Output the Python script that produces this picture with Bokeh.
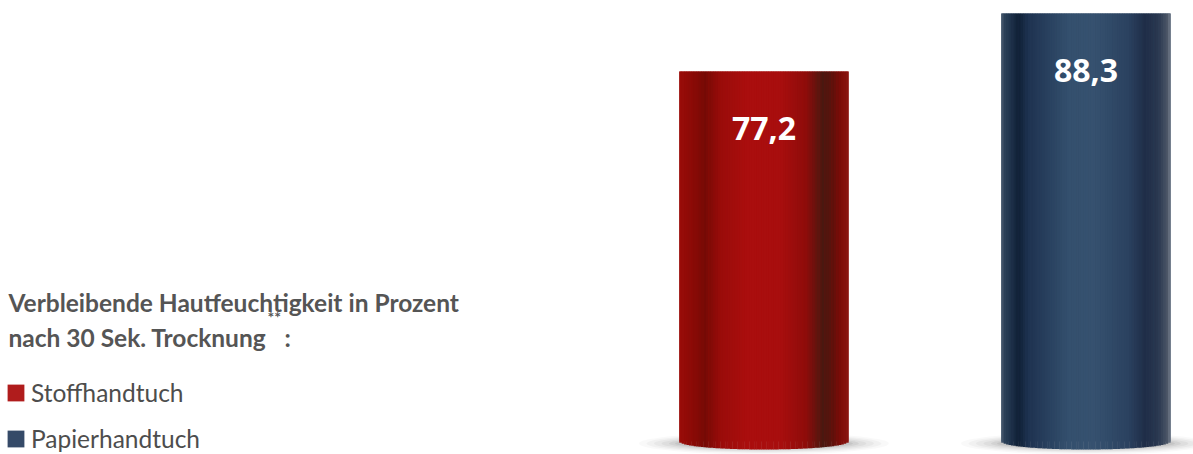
import math
from bokeh.plotting import figure
from bokeh.models import Range1d, Label, Legend, LegendItem, ColumnDataSource
from bokeh.core.properties import value
from bokeh.embed import file_html
from bokeh.resources import INLINE

# ---- data ----
categories = ["Stoffhandtuch", "Papierhandtuch"]
values = [77.2, 88.3]
value_labels = ["77,2", "88,3"]
title_line1 = "Verbleibende Hautfeuchtigkeit in Prozent"
title_line2 = "nach 30 Sek. Trocknung"
footnote_mark = "**"

# ---- style ----
W, H = 1193, 454
base_colors = ["#a50e0e", "#2f4763"]
legend_colors = ["#b01c1c", "#354a68"]
shade_stops = [
    [(0.0, "#9a0c08"), (0.1, "#860a06"), (0.15, "#760a05"), (0.25, "#9a0c0a"),
     (0.4, "#aa0e0e"), (0.6, "#a80e0e"), (0.75, "#8e0c0a"), (0.85, "#4a1810"),
     (0.9, "#5a120c"), (0.95, "#7a0c08"), (1.0, "#8a1510")],
    [(0.0, "#4a5a70"), (0.02, "#2a4058"), (0.07, "#1a2c45"), (0.1, "#0f2035"),
     (0.16, "#1e3250"), (0.4, "#34506e"), (0.55, "#36516f"), (0.75, "#2b4260"),
     (0.85, "#1f2d48"), (0.93, "#2a3850"), (0.98, "#4a5566"), (1.0, "#707888")],
]

y_end = max(values) + 2.49
y_start = 3.90
k = H / (y_end - y_start)          # px per unit
x_start, x_end = -2.371, 1.334
bar_w = 0.525
base = y_start + 13 / k            # cylinder bottom centre line
cap_px = 8                         # elliptic bottom half-height in px


def hex2rgb(h):
    return tuple(int(h[i:i + 2], 16) for i in (1, 3, 5))


def interp(stops, t):
    for (t0, c0), (t1, c1) in zip(stops, stops[1:]):
        if t0 <= t <= t1:
            f = (t - t0) / (t1 - t0) if t1 > t0 else 0
            a, b = hex2rgb(c0), hex2rgb(c1)
            return "#%02x%02x%02x" % tuple(round(a[j] + (b[j] - a[j]) * f) for j in range(3))
    return stops[-1][1]


p = figure(width=W, height=H, output_backend="svg", toolbar_location=None,
           x_range=Range1d(x_start, x_end), y_range=Range1d(y_start, y_end),
           min_border=0, min_border_left=0, min_border_right=0,
           min_border_top=0, min_border_bottom=0)
p.axis.visible = False
p.grid.visible = False
p.outline_line_color = None
p.background_fill_color = "white"
p.border_fill_color = "white"

xs = list(range(len(categories)))

# soft shadows
for sw, sh, a in [(250, 22, 0.025), (235, 19, 0.03), (220, 17, 0.035),
                  (205, 15, 0.04), (190, 13, 0.05), (178, 11, 0.06)]:
    p.ellipse(x=xs, y=[base - 2 / k] * len(xs), width=sw, height=sh,
              width_units="screen", height_units="screen",
              fill_color="#000000", fill_alpha=a, line_color=None)

# base bars
src = ColumnDataSource(dict(x=xs, top=values, color=base_colors))
p.vbar(x="x", top="top", bottom=base, width=bar_w, fill_color="color",
       line_color=None, source=src)

# cylinder shading strips
n = 70
sx, stop_, sbot, scol = [], [], [], []
for i, (xc, v) in enumerate(zip(xs, values)):
    for j in range(n):
        t = (j + 0.5) / n
        u = 2 * t - 1
        sx.append(xc - bar_w / 2 + t * bar_w)
        stop_.append(v)
        sbot.append(base - cap_px * math.sqrt(max(0.0, 1 - u * u)) / k)
        scol.append(interp(shade_stops[i], t))
p.vbar(x=sx, top=stop_, bottom=sbot, width=bar_w / n * 1.15,
       fill_color=scol, line_color=None)

# value labels
p.text(x=xs, y=values, text=value_labels, text_color="white",
       text_font=value("Open Sans"), text_font_style="bold",
       text_font_size="32px", text_align="center", text_baseline="middle",
       y_offset=57)

# title
tfont, tsize, tcol = "Lato", "24.5px", "#555555"
p.add_layout(Label(x=8, y=H - 302, x_units="screen", y_units="screen",
                   text=title_line1, text_font=tfont, text_font_style="bold",
                   text_font_size=tsize, text_color=tcol,
                   text_baseline="alphabetic"))
p.add_layout(Label(x=8, y=H - 337, x_units="screen", y_units="screen",
                   text=title_line2, text_font=tfont, text_font_style="bold",
                   text_font_size=tsize, text_color=tcol,
                   text_baseline="alphabetic"))
p.add_layout(Label(x=267, y=H - 316, x_units="screen", y_units="screen",
                   text=footnote_mark, text_font=tfont, text_font_style="bold",
                   text_font_size="16px", text_color=tcol,
                   text_baseline="alphabetic"))
p.add_layout(Label(x=284, y=H - 337, x_units="screen", y_units="screen",
                   text=":", text_font=tfont, text_font_style="bold",
                   text_font_size=tsize, text_color=tcol,
                   text_baseline="alphabetic"))

# legend
legend_r = []
for i, c in enumerate(categories):
    r = p.vbar(x=[xs[i]], top=[values[i]], bottom=base, width=0,
               fill_color=legend_colors[i], line_color=None)
    legend_r.append(r)
legend = Legend(items=[LegendItem(label=c, renderers=[legend_r[i]]) for i, c in enumerate(categories)],
                location=(5, 1), orientation="vertical",
                glyph_width=21, glyph_height=21, label_height=17, spacing=17,
                label_standoff=5, padding=0, margin=0,
                border_line_color=None, background_fill_alpha=0,
                label_text_font="Lato", label_text_font_size="24.5px",
                label_text_color="#4d4d4d")
p.add_layout(legend)

open("out.html", "w").write(file_html(p, INLINE))
